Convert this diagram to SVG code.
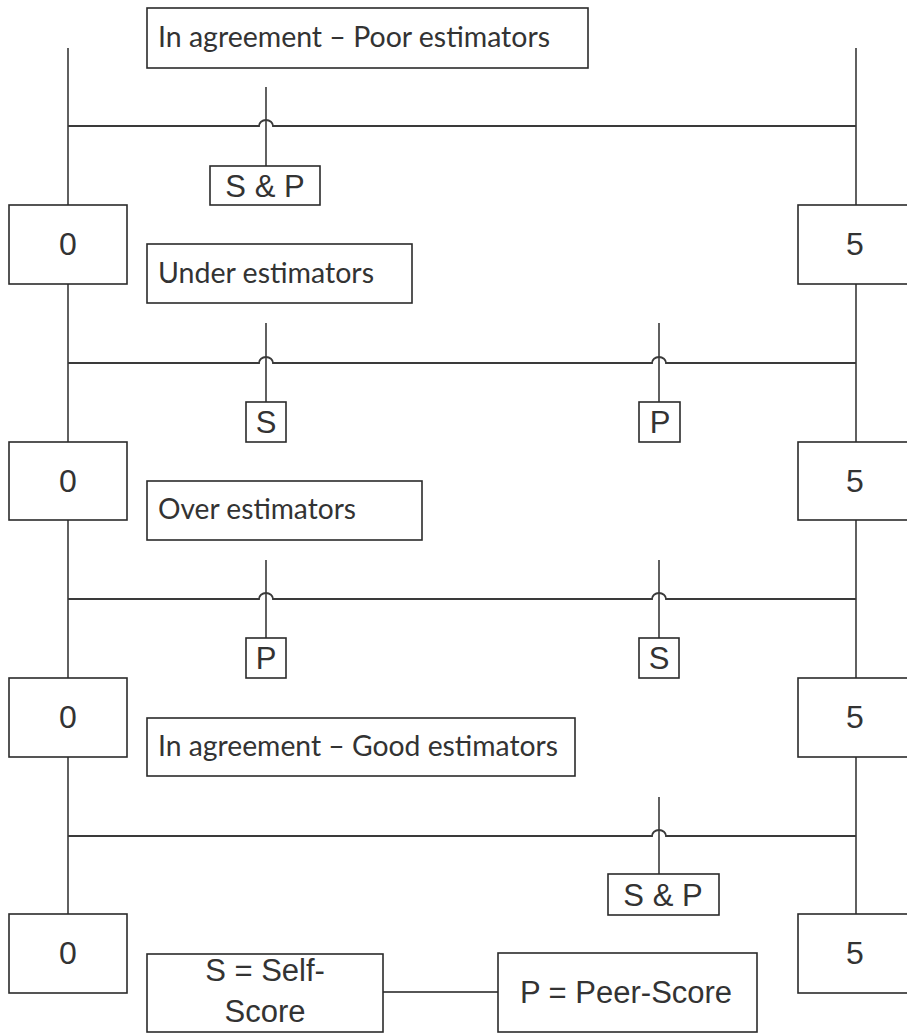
<svg xmlns="http://www.w3.org/2000/svg" width="907" height="1034" viewBox="0 0 907 1034">
  <style>
    .box { fill: #ffffff; stroke: #2b2b2b; stroke-width: 1.6; }
    .line { fill: none; stroke: #1e1e1e; stroke-width: 1.4; }
    .hline { fill: none; stroke: #3a3a3a; stroke-width: 1.8; }
    .tick { fill: none; stroke: #3a3a3a; stroke-width: 1.6; }
    .title { font-family: Lato, "Open Sans", "Liberation Sans", sans-serif; font-size: 28.5px; fill: #333333; }
    .lbl { font-family: "Liberation Sans", Arial, sans-serif; font-size: 31px; fill: #333333; text-anchor: middle; }
    .num { font-family: "Liberation Sans", Arial, sans-serif; font-size: 32px; fill: #333333; text-anchor: middle; }
  </style>

  <rect width="907" height="1034" fill="#ffffff"/>

  <!-- connectors: axis posts, scale lines with line jumps, and marker stems -->
  <g id="connectors">
    <!-- left posts (x=68) -->
    <path class="line" d="M68 48 V205 M68 284 V442 M68 520 V678 M68 757 V914"/>
    <!-- right posts (x=856) -->
    <path class="line" d="M856 48 V205 M856 284 V442 M856 520 V678 M856 757 V914"/>

    <!-- scale line 1 -->
    <path class="hline" d="M68 126 H259 A7 6 0 0 1 273 126 H856"/>
    <!-- scale line 2 -->
    <path class="hline" d="M68 363 H259 A7 6 0 0 1 273 363 H652 A7 6 0 0 1 666 363 H856"/>
    <!-- scale line 3 -->
    <path class="hline" d="M68 599 H259 A7 6 0 0 1 273 599 H652 A7 6 0 0 1 666 599 H856"/>
    <!-- scale line 4 -->
    <path class="hline" d="M68 836 H652 A7 6 0 0 1 666 836 H856"/>

    <!-- marker stems -->
    <path class="tick" d="M266 87 V166"/>
    <path class="tick" d="M266 323 V402 M659 323 V402"/>
    <path class="tick" d="M266 560 V638 M659 560 V638"/>
    <path class="tick" d="M659 797 V874"/>

    <!-- legend link -->
    <path class="line" d="M383 992 H498"/>
  </g>

  <!-- row 1: In agreement – Poor estimators -->
  <g id="title-poor">
    <rect class="box" x="147" y="8" width="441" height="60"/>
    <text class="title" x="158" y="47" textLength="392" lengthAdjust="spacingAndGlyphs">In agreement – Poor estimators</text>
  </g>
  <g id="mark-sp-1">
    <rect class="box" x="210" y="166" width="110" height="39"/>
    <text class="lbl" x="265" y="197" font-size="32">S &amp; P</text>
  </g>
  <g id="zero-1">
    <rect class="box" x="9" y="205" width="118" height="79"/>
    <text class="num" x="68" y="255">0</text>
  </g>
  <g id="five-1">
    <rect class="box" x="798" y="205" width="130" height="79"/>
    <text class="num" x="855" y="255">5</text>
  </g>

  <!-- row 2: Under estimators -->
  <g id="title-under">
    <rect class="box" x="147" y="244" width="265" height="59"/>
    <text class="title" x="158" y="283" textLength="216" lengthAdjust="spacingAndGlyphs">Under estimators</text>
  </g>
  <g id="mark-s-2">
    <rect class="box" x="246" y="402" width="40" height="40"/>
    <text class="lbl" x="266" y="433">S</text>
  </g>
  <g id="mark-p-2">
    <rect class="box" x="639" y="402" width="41" height="40"/>
    <text class="lbl" x="660" y="433">P</text>
  </g>
  <g id="zero-2">
    <rect class="box" x="9" y="442" width="118" height="78"/>
    <text class="num" x="68" y="492">0</text>
  </g>
  <g id="five-2">
    <rect class="box" x="798" y="442" width="130" height="78"/>
    <text class="num" x="855" y="492">5</text>
  </g>

  <!-- row 3: Over estimators -->
  <g id="title-over">
    <rect class="box" x="147" y="481" width="275" height="59"/>
    <text class="title" x="158" y="519" textLength="198" lengthAdjust="spacingAndGlyphs">Over estimators</text>
  </g>
  <g id="mark-p-3">
    <rect class="box" x="246" y="638" width="40" height="40"/>
    <text class="lbl" x="266" y="669">P</text>
  </g>
  <g id="mark-s-3">
    <rect class="box" x="639" y="638" width="40" height="40"/>
    <text class="lbl" x="659" y="669">S</text>
  </g>
  <g id="zero-3">
    <rect class="box" x="9" y="678" width="118" height="79"/>
    <text class="num" x="68" y="728">0</text>
  </g>
  <g id="five-3">
    <rect class="box" x="798" y="678" width="130" height="79"/>
    <text class="num" x="855" y="728">5</text>
  </g>

  <!-- row 4: In agreement – Good estimators -->
  <g id="title-good">
    <rect class="box" x="147" y="718" width="428" height="58"/>
    <text class="title" x="158" y="756" textLength="400" lengthAdjust="spacingAndGlyphs">In agreement – Good estimators</text>
  </g>
  <g id="mark-sp-4">
    <rect class="box" x="608" y="874" width="111" height="41"/>
    <text class="lbl" x="663" y="906" font-size="32">S &amp; P</text>
  </g>
  <g id="zero-4">
    <rect class="box" x="9" y="914" width="118" height="79"/>
    <text class="num" x="68" y="964">0</text>
  </g>
  <g id="five-4">
    <rect class="box" x="798" y="914" width="130" height="79"/>
    <text class="num" x="855" y="964">5</text>
  </g>

  <!-- legend -->
  <g id="legend-self">
    <rect class="box" x="147" y="954" width="236" height="78"/>
    <text class="lbl" x="265" y="981">S = Self-</text>
    <text class="lbl" x="265" y="1022">Score</text>
  </g>
  <g id="legend-peer">
    <rect class="box" x="498" y="953" width="259" height="79"/>
    <text class="lbl" x="626" y="1003">P = Peer-Score</text>
  </g>
</svg>
